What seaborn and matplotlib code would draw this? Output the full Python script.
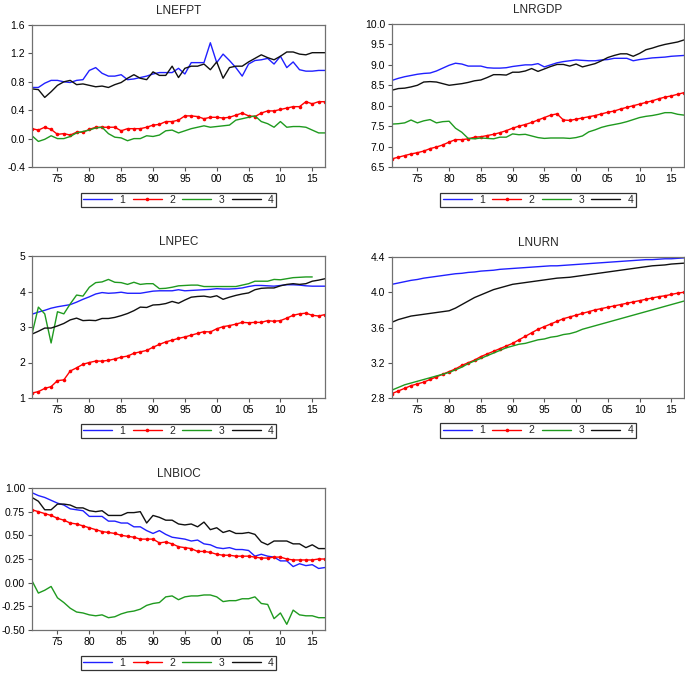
import numpy as np
import pandas as pd
import matplotlib
matplotlib.use("Agg")
import matplotlib.pyplot as plt
import seaborn as sns

# roky 1971-2017
years = list(range(1971, 2018))
series_names = ["1", "2", "3", "4"]

lnefpt_1 = [0.72, 0.72, 0.78, 0.82, 0.82, 0.80, 0.79, 0.82, 0.83, 0.96, 1.00, 0.92, 0.88, 0.88, 0.90, 0.83,
            0.84, 0.86, 0.88, 0.91, 0.93, 0.93, 0.93, 0.99, 0.91, 1.07, 1.07, 1.07, 1.35, 1.07, 1.19, 1.10,
            1.00, 0.88, 1.05, 1.10, 1.11, 1.13, 1.05, 1.16, 1.00, 1.08, 0.97, 0.95, 0.95, 0.96, 0.96]
lnefpt_2 = [0.14, 0.12, 0.16, 0.13, 0.06, 0.07, 0.05, 0.09, 0.09, 0.13, 0.16, 0.16, 0.16, 0.16, 0.11, 0.14,
            0.14, 0.14, 0.16, 0.19, 0.20, 0.24, 0.24, 0.26, 0.32, 0.32, 0.31, 0.28, 0.30, 0.30, 0.29, 0.30,
            0.33, 0.36, 0.32, 0.31, 0.36, 0.39, 0.39, 0.41, 0.43, 0.45, 0.45, 0.52, 0.49, 0.52, 0.52]
lnefpt_3 = [0.04, -0.04, -0.01, 0.04, 0.00, 0.00, 0.03, 0.08, 0.10, 0.12, 0.15, 0.16, 0.07, 0.02, 0.01, -0.03,
            0.00, 0.00, 0.04, 0.03, 0.05, 0.11, 0.12, 0.08, 0.11, 0.14, 0.16, 0.18, 0.16, 0.17, 0.18, 0.19,
            0.26, 0.28, 0.30, 0.32, 0.24, 0.21, 0.16, 0.24, 0.16, 0.17, 0.17, 0.16, 0.12, 0.08, 0.08]
lnefpt_4 = [0.70, 0.69, 0.58, 0.66, 0.75, 0.80, 0.82, 0.76, 0.77, 0.75, 0.73, 0.74, 0.72, 0.76, 0.79, 0.85,
            0.90, 0.85, 0.83, 0.94, 0.89, 0.89, 1.02, 0.86, 0.99, 1.02, 1.02, 1.05, 0.97, 1.08, 0.85, 1.00,
            1.02, 1.02, 1.08, 1.13, 1.18, 1.14, 1.11, 1.16, 1.22, 1.22, 1.19, 1.18, 1.21, 1.21, 1.21]

lnrgdp_1 = [8.62, 8.67, 8.71, 8.74, 8.77, 8.79, 8.80, 8.85, 8.92, 8.99, 9.04, 9.02, 8.97, 8.97, 8.97, 8.93,
            8.92, 8.92, 8.93, 8.96, 8.98, 9.00, 9.00, 9.03, 8.95, 9.00, 9.05, 9.08, 9.10, 9.12, 9.11, 9.10,
            9.10, 9.12, 9.13, 9.16, 9.16, 9.16, 9.10, 9.13, 9.15, 9.17, 9.18, 9.19, 9.21, 9.22, 9.23]
lnrgdp_2 = [6.70, 6.74, 6.78, 6.82, 6.85, 6.89, 6.95, 6.99, 7.04, 7.11, 7.17, 7.17, 7.19, 7.23, 7.24, 7.27,
            7.30, 7.34, 7.39, 7.45, 7.50, 7.54, 7.59, 7.65, 7.71, 7.77, 7.80, 7.65, 7.64, 7.67, 7.70, 7.73,
            7.76, 7.80, 7.84, 7.87, 7.92, 7.96, 8.00, 8.04, 8.08, 8.12, 8.17, 8.21, 8.24, 8.28, 8.32]
lnrgdp_3 = [7.55, 7.56, 7.58, 7.65, 7.58, 7.63, 7.66, 7.58, 7.61, 7.62, 7.45, 7.35, 7.20, 7.19, 7.21, 7.20,
            7.19, 7.23, 7.23, 7.31, 7.29, 7.30, 7.26, 7.22, 7.20, 7.21, 7.21, 7.21, 7.20, 7.22, 7.26, 7.36,
            7.41, 7.47, 7.51, 7.54, 7.57, 7.61, 7.66, 7.71, 7.74, 7.76, 7.79, 7.83, 7.83, 7.79, 7.77]
lnrgdp_4 = [8.38, 8.42, 8.43, 8.46, 8.50, 8.58, 8.59, 8.58, 8.54, 8.50, 8.52, 8.54, 8.57, 8.61, 8.63, 8.69,
            8.76, 8.76, 8.75, 8.82, 8.82, 8.85, 8.91, 8.84, 8.90, 8.96, 9.01, 9.01, 8.97, 9.02, 8.95, 8.99,
            9.03, 9.10, 9.18, 9.23, 9.27, 9.27, 9.21, 9.28, 9.37, 9.41, 9.46, 9.50, 9.53, 9.56, 9.61]

lnpec_1 = [3.36, 3.42, 3.47, 3.53, 3.57, 3.60, 3.63, 3.70, 3.78, 3.85, 3.93, 3.97, 3.95, 3.96, 3.98, 3.95,
           3.95, 3.95, 3.98, 4.01, 4.02, 4.02, 4.02, 4.05, 4.02, 4.03, 4.04, 4.05, 4.06, 4.08, 4.07, 4.07,
           4.08, 4.10, 4.14, 4.17, 4.17, 4.16, 4.15, 4.17, 4.19, 4.19, 4.18, 4.16, 4.15, 4.15, 4.15]
lnpec_2 = [1.14, 1.18, 1.27, 1.32, 1.49, 1.51, 1.76, 1.85, 1.95, 2.00, 2.04, 2.04, 2.06, 2.10, 2.15, 2.18,
           2.26, 2.30, 2.34, 2.43, 2.51, 2.58, 2.63, 2.68, 2.72, 2.77, 2.82, 2.87, 2.86, 2.95, 3.01, 3.04,
           3.08, 3.13, 3.12, 3.13, 3.13, 3.18, 3.16, 3.18, 3.25, 3.33, 3.37, 3.39, 3.33, 3.31, 3.35]
lnpec_3 = [2.80, 3.56, 3.37, 2.55, 3.43, 3.37, 3.65, 3.90, 3.87, 4.12, 4.25, 4.27, 4.34, 4.26, 4.25, 4.20,
           4.26, 4.20, 4.22, 4.22, 4.08, 4.09, 4.12, 4.16, 4.17, 4.18, 4.18, 4.14, 4.14, 4.14, 4.14, 4.14,
           4.14, 4.18, 4.22, 4.29, 4.29, 4.29, 4.34, 4.33, 4.36, 4.39, 4.40, 4.41, 4.41, np.nan, np.nan]
lnpec_4 = [2.80, 2.88, 2.97, 2.97, 3.03, 3.10, 3.20, 3.25, 3.18, 3.19, 3.18, 3.24, 3.24, 3.27, 3.32, 3.38,
           3.46, 3.56, 3.55, 3.62, 3.63, 3.66, 3.72, 3.67, 3.76, 3.84, 3.86, 3.87, 3.84, 3.88, 3.78, 3.84,
           3.89, 3.93, 3.96, 4.05, 4.09, 4.10, 4.10, 4.16, 4.20, 4.22, 4.20, 4.22, 4.29, 4.32, 4.36]

lnurn_1 = [4.09, 4.105, 4.12, 4.135, 4.145, 4.16, 4.17, 4.18, 4.19, 4.20, 4.21, 4.215, 4.225, 4.23, 4.24, 4.245,
           4.25, 4.26, 4.265, 4.27, 4.275, 4.28, 4.285, 4.29, 4.295, 4.30, 4.30, 4.305, 4.31, 4.315, 4.32, 4.325,
           4.33, 4.335, 4.34, 4.345, 4.35, 4.355, 4.36, 4.365, 4.37, 4.37, 4.375, 4.38, 4.38, 4.385, 4.39]
lnurn_2 = [2.85, 2.88, 2.91, 2.94, 2.96, 2.98, 3.01, 3.04, 3.07, 3.10, 3.13, 3.17, 3.20, 3.23, 3.27, 3.30,
           3.33, 3.36, 3.39, 3.42, 3.46, 3.50, 3.54, 3.58, 3.61, 3.64, 3.67, 3.70, 3.72, 3.74, 3.76, 3.78,
           3.80, 3.815, 3.83, 3.845, 3.86, 3.875, 3.89, 3.905, 3.92, 3.935, 3.95, 3.96, 3.975, 3.99, 4.00]
lnurn_3 = [2.89, 2.92, 2.95, 2.97, 2.99, 3.01, 3.03, 3.05, 3.07, 3.09, 3.12, 3.15, 3.19, 3.22, 3.25, 3.28,
           3.31, 3.34, 3.37, 3.39, 3.41, 3.42, 3.44, 3.46, 3.47, 3.49, 3.50, 3.52, 3.53, 3.55, 3.58, 3.60,
           3.62, 3.64, 3.66, 3.68, 3.70, 3.72, 3.74, 3.76, 3.78, 3.80, 3.82, 3.84, 3.86, 3.88, 3.90]
lnurn_4 = [3.66, 3.69, 3.71, 3.73, 3.74, 3.75, 3.76, 3.77, 3.78, 3.79, 3.82, 3.86, 3.90, 3.94, 3.97, 4.00,
           4.03, 4.05, 4.07, 4.09, 4.10, 4.11, 4.12, 4.13, 4.14, 4.15, 4.16, 4.165, 4.17, 4.18, 4.19, 4.20,
           4.21, 4.22, 4.23, 4.24, 4.25, 4.26, 4.27, 4.28, 4.29, 4.30, 4.305, 4.31, 4.32, 4.325, 4.33]

lnbioc_1 = [0.95, 0.92, 0.90, 0.87, 0.84, 0.82, 0.78, 0.77, 0.76, 0.70, 0.70, 0.70, 0.65, 0.65, 0.63, 0.63,
            0.59, 0.59, 0.55, 0.52, 0.55, 0.51, 0.48, 0.47, 0.46, 0.44, 0.45, 0.41, 0.40, 0.37, 0.36, 0.37,
            0.35, 0.35, 0.34, 0.28, 0.30, 0.28, 0.27, 0.23, 0.23, 0.17, 0.20, 0.18, 0.19, 0.15, 0.16]
lnbioc_2 = [0.77, 0.75, 0.73, 0.71, 0.68, 0.66, 0.63, 0.62, 0.60, 0.58, 0.56, 0.54, 0.53, 0.52, 0.50, 0.49,
            0.48, 0.46, 0.46, 0.46, 0.42, 0.43, 0.41, 0.38, 0.37, 0.36, 0.33, 0.33, 0.32, 0.30, 0.29, 0.29,
            0.28, 0.28, 0.28, 0.27, 0.26, 0.26, 0.27, 0.27, 0.25, 0.24, 0.24, 0.24, 0.24, 0.25, 0.25]
lnbioc_3 = [0.02, -0.11, -0.08, -0.04, -0.16, -0.21, -0.27, -0.31, -0.32, -0.34, -0.35, -0.34, -0.37, -0.36, -0.33, -0.31,
            -0.30, -0.28, -0.24, -0.22, -0.21, -0.15, -0.14, -0.18, -0.15, -0.14, -0.14, -0.13, -0.13, -0.15, -0.20, -0.19,
            -0.19, -0.17, -0.17, -0.15, -0.22, -0.23, -0.38, -0.32, -0.44, -0.29, -0.34, -0.35, -0.35, -0.37, -0.37]
lnbioc_4 = [0.90, 0.86, 0.77, 0.77, 0.83, 0.83, 0.82, 0.79, 0.79, 0.76, 0.75, 0.76, 0.71, 0.71, 0.71, 0.74,
            0.74, 0.75, 0.63, 0.71, 0.69, 0.66, 0.66, 0.62, 0.61, 0.62, 0.59, 0.64, 0.56, 0.58, 0.53, 0.55,
            0.52, 0.52, 0.53, 0.51, 0.43, 0.40, 0.44, 0.44, 0.44, 0.41, 0.41, 0.37, 0.40, 0.36, 0.36]

panels = [
    ("LNEFPT", [lnefpt_1, lnefpt_2, lnefpt_3, lnefpt_4], [-0.4, 0.0, 0.4, 0.8, 1.2, 1.6], "%.1f"),
    ("LNRGDP", [lnrgdp_1, lnrgdp_2, lnrgdp_3, lnrgdp_4], [6.5, 7.0, 7.5, 8.0, 8.5, 9.0, 9.5, 10.0], "%.1f"),
    ("LNPEC", [lnpec_1, lnpec_2, lnpec_3, lnpec_4], [1, 2, 3, 4, 5], "%d"),
    ("LNURN", [lnurn_1, lnurn_2, lnurn_3, lnurn_4], [2.8, 3.2, 3.6, 4.0, 4.4], "%.1f"),
    ("LNBIOC", [lnbioc_1, lnbioc_2, lnbioc_3, lnbioc_4], [-0.50, -0.25, 0.00, 0.25, 0.50, 0.75, 1.00], "%.2f"),
]

xticks = [1975, 1980, 1985, 1990, 1995, 2000, 2005, 2010, 2015]
xticklabels = ["75", "80", "85", "90", "95", "00", "05", "10", "15"]

colors = ["#2020ff", "#ff0000", "#1f9a1f", "#101010"]

sns.set_style("white")
plt.rcParams["font.family"] = ["Liberation Sans", "DejaVu Sans"]

fig = plt.figure(figsize=(6.85, 6.74), dpi=100)
W, H = 685.0, 674.0
# (left, top, right, bottom) v pixelech
boxes = [(32, 25, 325, 167), (392, 24, 684, 167),
         (32, 256, 325, 398), (392, 257, 684, 398),
         (32, 488, 325, 630)]

for (title, vals, yticks, fmt), (l, t, r, b) in zip(panels, boxes):
    ax = fig.add_axes([l / W, 1 - b / H, (r - l) / W, (b - t) / H])
    df = pd.DataFrame({"year": years})
    for name, v in zip(series_names, vals):
        df[name] = v
    long = df.melt(id_vars="year", var_name="series", value_name="value")
    for i, name in enumerate(series_names):
        sub = long[long["series"] == name]
        sns.lineplot(data=sub, x="year", y="value", ax=ax, color=colors[i], label=name,
                     linewidth=1.0, marker="o" if name == "2" else None,
                     markersize=2.6, markeredgewidth=0)
    ax.set_xlim(1971, 2017)
    ax.set_ylim(yticks[0], yticks[-1])
    ax.set_yticks(yticks)
    ax.set_yticklabels([fmt % y for y in yticks])
    ax.set_xticks(xticks)
    ax.set_xticklabels(xticklabels)
    ax.set_xlabel("")
    ax.set_ylabel("")
    ax.tick_params(bottom=True, left=True, direction="out", length=3, width=0.8,
                   labelsize=7.5, colors="#555555", labelcolor="black", pad=2)
    for s in ax.spines.values():
        s.set_color("#707070")
        s.set_linewidth(0.9)
    ax.set_title(title, fontsize=8.5, pad=8)
    leg = ax.legend(loc="upper center", bbox_to_anchor=(0.5, -0.18), ncol=4, fontsize=7.5,
                    frameon=True, fancybox=False, edgecolor="black", handlelength=2.8,
                    columnspacing=0.7, handletextpad=0.7, borderpad=0.2, borderaxespad=0)
    leg.get_frame().set_linewidth(0.9)

fig.savefig("out.png", dpi=100)
